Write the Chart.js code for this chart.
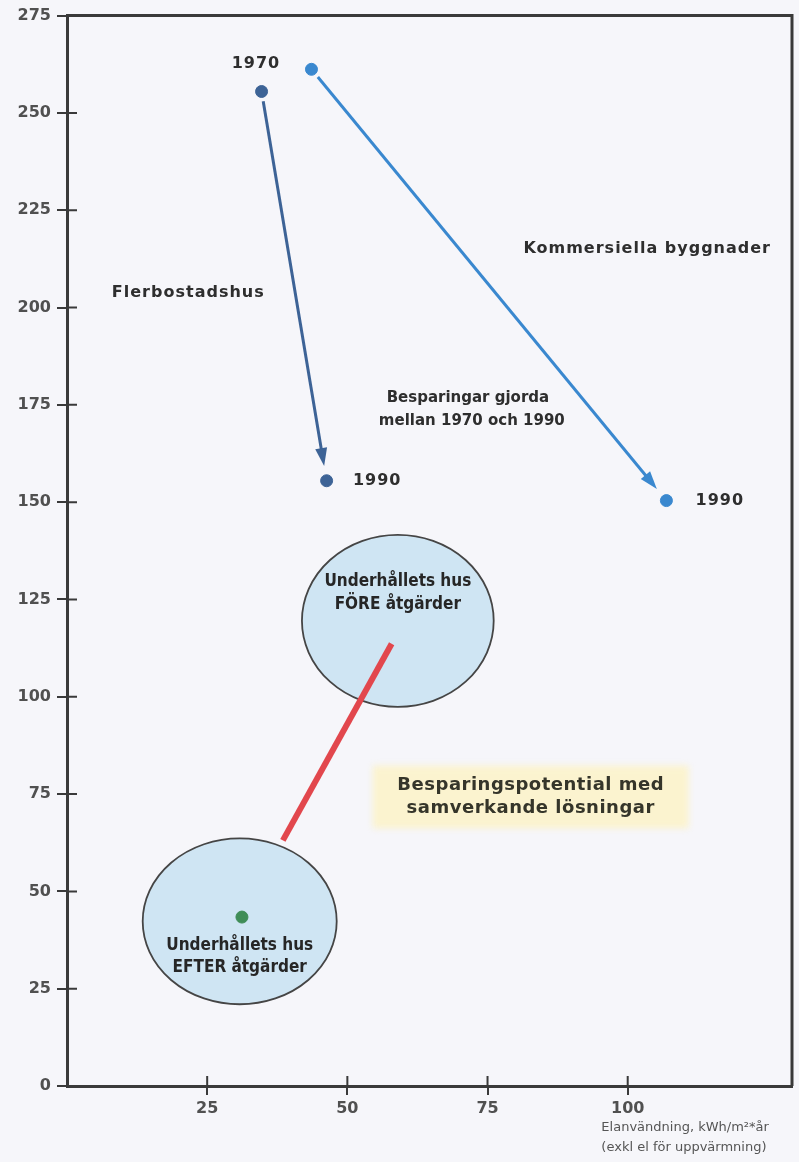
<!DOCTYPE html>
<html lang="sv">
<head>
<meta charset="UTF-8" />
<title>Besparingspotential</title>
<script src="https://cdn.jsdelivr.net/npm/chart.js@4"></script>
<style>
  html, body { margin: 0; padding: 0; background: #f6f6fa; }
  canvas { display: block; }
</style>
</head>
<body>
<canvas id="chart" width="799" height="1162"></canvas>
<script>
const xTicks = [25, 50, 75, 100];
const yTicks = [0, 25, 50, 75, 100, 125, 150, 175, 200, 225, 250, 275];
const flerX = [34.7, 46.3];
const flerY = [255.5, 155.5];
const kommX = [43.6, 106.9];
const kommY = [261.2, 150.4];
const efterX = [31.2];
const efterY = [43.4];
const potentialX = [38.5, 57.9];
const potentialY = [63.1, 113.6];
const houseX = [59.0, 30.8];
const houseY = [119.5, 42.3];
const houseRX = [17.1, 17.3];
const houseRY = [22.1, 21.3];
const houseText = [["Underhållets hus", "FÖRE åtgärder"], ["Underhållets hus", "EFTER åtgärder"]];
const houseTextY = [[129.5, 123.6], [36.2, 30.5]];
const notes = [
  { text: "1970", x: 33.7, y: 262.6, align: "center", size: 16 },
  { text: "1990", x: 51.0, y: 155.5, align: "left", size: 16 },
  { text: "1990", x: 112.1, y: 150.3, align: "left", size: 16 },
  { text: "Flerbostadshus", x: 8.0, y: 203.7, align: "left", size: 16 },
  { text: "Kommersiella byggnader", x: 81.4, y: 215.2, align: "left", size: 16 },
  { text: "Besparingar gjorda", x: 71.5, y: 176.8, align: "center", size: 15 },
  { text: "mellan 1970 och 1990", x: 72.2, y: 170.9, align: "center", size: 15 }
];
const potentialText = ["Besparingspotential med", "samverkande lösningar"];
const potentialTextX = 82.7;
const potentialTextY = [77.2, 71.3];
const axisTitle = ["Elanvändning, kWh/m²*år", "(exkl el för uppvärmning)"];
const axisTitleX = 95.3;

const toPoints = (xs, ys) => xs.map((x, i) => ({ x: x, y: ys[i] }));

function arrow(ctx, x1, y1, x2, y2, color) {
  const len = Math.hypot(x2 - x1, y2 - y1);
  const ux = (x2 - x1) / len, uy = (y2 - y1) / len;
  const sx = x1 + ux * 10, sy = y1 + uy * 10;
  const tx = x2 - ux * 15, ty = y2 - uy * 15;
  const bx = tx - ux * 18, by = ty - uy * 18;
  ctx.strokeStyle = color;
  ctx.fillStyle = color;
  ctx.lineWidth = 3;
  ctx.beginPath();
  ctx.moveTo(sx, sy);
  ctx.lineTo(bx + ux * 4, by + uy * 4);
  ctx.stroke();
  ctx.beginPath();
  ctx.moveTo(tx, ty);
  ctx.lineTo(bx - uy * 6, by + ux * 6);
  ctx.lineTo(bx + uy * 6, by - ux * 6);
  ctx.closePath();
  ctx.fill();
}

const shapes = {
  id: "shapes",
  beforeDatasetsDraw(chart) {
    const { ctx, scales: { x, y } } = chart;
    ctx.save();
    // yellow label background
    const cx = x.getPixelForValue(potentialTextX);
    const top = y.getPixelForValue(potentialTextY[0]) - 20;
    const bottom = y.getPixelForValue(potentialTextY[1]) + 20;
    ctx.filter = "blur(3px)";
    ctx.fillStyle = "#fbf3cf";
    ctx.fillRect(cx - 158, top, 316, bottom - top);
    ctx.filter = "none";
    // circles
    houseX.forEach((hx, i) => {
      const px = x.getPixelForValue(hx), py = y.getPixelForValue(houseY[i]);
      const rx = x.getPixelForValue(hx + houseRX[i]) - px;
      const ry = py - y.getPixelForValue(houseY[i] + houseRY[i]);
      ctx.beginPath();
      ctx.ellipse(px, py, rx, ry, 0, 0, Math.PI * 2);
      ctx.fillStyle = "#cfe5f3";
      ctx.fill();
      ctx.lineWidth = 1.8;
      ctx.strokeStyle = "#454545";
      ctx.stroke();
      ctx.fillStyle = "#262626";
      ctx.textAlign = "center";
      ctx.textBaseline = "middle";
      ctx.font = "bold 17px 'DejaVu Sans Condensed', 'Liberation Sans Narrow', 'DejaVu Sans'";
      houseText[i].forEach((t, j) => {
        ctx.fillText(t, px, y.getPixelForValue(houseTextY[i][j]));
      });
    });
    // arrows 1970 -> 1990
    arrow(ctx, x.getPixelForValue(flerX[0]), y.getPixelForValue(flerY[0]),
      x.getPixelForValue(flerX[1]), y.getPixelForValue(flerY[1]), "#3d6396");
    arrow(ctx, x.getPixelForValue(kommX[0]), y.getPixelForValue(kommY[0]),
      x.getPixelForValue(kommX[1]), y.getPixelForValue(kommY[1]), "#3a88cf");
    ctx.restore();
  },
  afterDraw(chart) {
    const { ctx, chartArea: a, scales: { x, y } } = chart;
    ctx.save();
    // frame top and right
    ctx.strokeStyle = "#3a3a3a";
    ctx.lineWidth = 3;
    ctx.beginPath();
    ctx.moveTo(a.left, a.top);
    ctx.lineTo(a.right, a.top);
    ctx.lineTo(a.right, a.bottom);
    ctx.stroke();
    // inner halves of tick marks
    ctx.lineWidth = 2;
    ctx.beginPath();
    yTicks.forEach(v => {
      const py = y.getPixelForValue(v);
      ctx.moveTo(a.left, py);
      ctx.lineTo(a.left + 10, py);
    });
    xTicks.forEach(v => {
      const px = x.getPixelForValue(v);
      ctx.moveTo(px, a.bottom);
      ctx.lineTo(px, a.bottom - 10);
    });
    ctx.stroke();
    // labels
    ctx.textBaseline = "middle";
    ctx.fillStyle = "#2e2e2e";
    notes.forEach(n => {
      ctx.letterSpacing = n.size > 15 ? "1px" : "0px";
      ctx.font = "bold " + n.size + "px 'DejaVu Sans'";
      ctx.textAlign = n.align;
      ctx.fillText(n.text, x.getPixelForValue(n.x), y.getPixelForValue(n.y));
    });
    ctx.letterSpacing = "0.5px";
    ctx.font = "bold 18px 'DejaVu Sans'";
    ctx.fillStyle = "#35352a";
    ctx.textAlign = "center";
    potentialText.forEach((t, i) => {
      ctx.fillText(t, x.getPixelForValue(potentialTextX), y.getPixelForValue(potentialTextY[i]));
    });
    ctx.letterSpacing = "0px";
    ctx.font = "13px 'DejaVu Sans'";
    ctx.fillStyle = "#555";
    ctx.textAlign = "left";
    axisTitle.forEach((t, i) => {
      ctx.fillText(t, x.getPixelForValue(axisTitleX), a.bottom + 42 + i * 20);
    });
    ctx.restore();
  }
};

const tickFont = { family: "'DejaVu Sans'", size: 16, weight: "bold" };

new Chart(document.getElementById("chart"), {
  type: "scatter",
  data: {
    datasets: [
      {
        label: "Flerbostadshus",
        data: toPoints(flerX, flerY),
        backgroundColor: "#3d6396",
        borderColor: "#3d6396",
        pointRadius: 6,
        pointHoverRadius: 6
      },
      {
        label: "Kommersiella byggnader",
        data: toPoints(kommX, kommY),
        backgroundColor: "#3a88cf",
        borderColor: "#3a88cf",
        pointRadius: 6,
        pointHoverRadius: 6
      },
      {
        label: "Underhållets hus EFTER åtgärder",
        data: toPoints(efterX, efterY),
        backgroundColor: "#3f8d57",
        borderColor: "#3f8d57",
        pointRadius: 6,
        pointHoverRadius: 6
      },
      {
        label: "Besparingspotential",
        data: toPoints(potentialX, potentialY),
        showLine: true,
        borderColor: "#e2474d",
        borderWidth: 6,
        pointRadius: 0
      }
    ]
  },
  options: {
    responsive: false,
    animation: false,
    layout: { padding: { top: 14, right: 6, left: 0, bottom: 0 } },
    plugins: { legend: { display: false }, tooltip: { enabled: false } },
    scales: {
      x: {
        type: "linear",
        min: 0,
        max: 129.3,
        afterBuildTicks: s => { s.ticks = xTicks.map(v => ({ value: v })); },
        afterFit: s => { s.height = 76; },
        grid: { drawOnChartArea: false, tickLength: 9, color: "#3a3a3a", lineWidth: 2 },
        border: { color: "#3a3a3a", width: 3 },
        ticks: { color: "#505050", font: tickFont, padding: 4, maxRotation: 0 }
      },
      y: {
        type: "linear",
        min: 0,
        max: 275,
        afterBuildTicks: s => { s.ticks = yTicks.map(v => ({ value: v })); },
        afterFit: s => { s.width = 67; },
        grid: { drawOnChartArea: false, tickLength: 10, color: "#3a3a3a", lineWidth: 2 },
        border: { color: "#3a3a3a", width: 3 },
        ticks: { color: "#505050", font: tickFont, padding: 6 }
      }
    }
  },
  plugins: [shapes]
});
</script>
</body>
</html>
